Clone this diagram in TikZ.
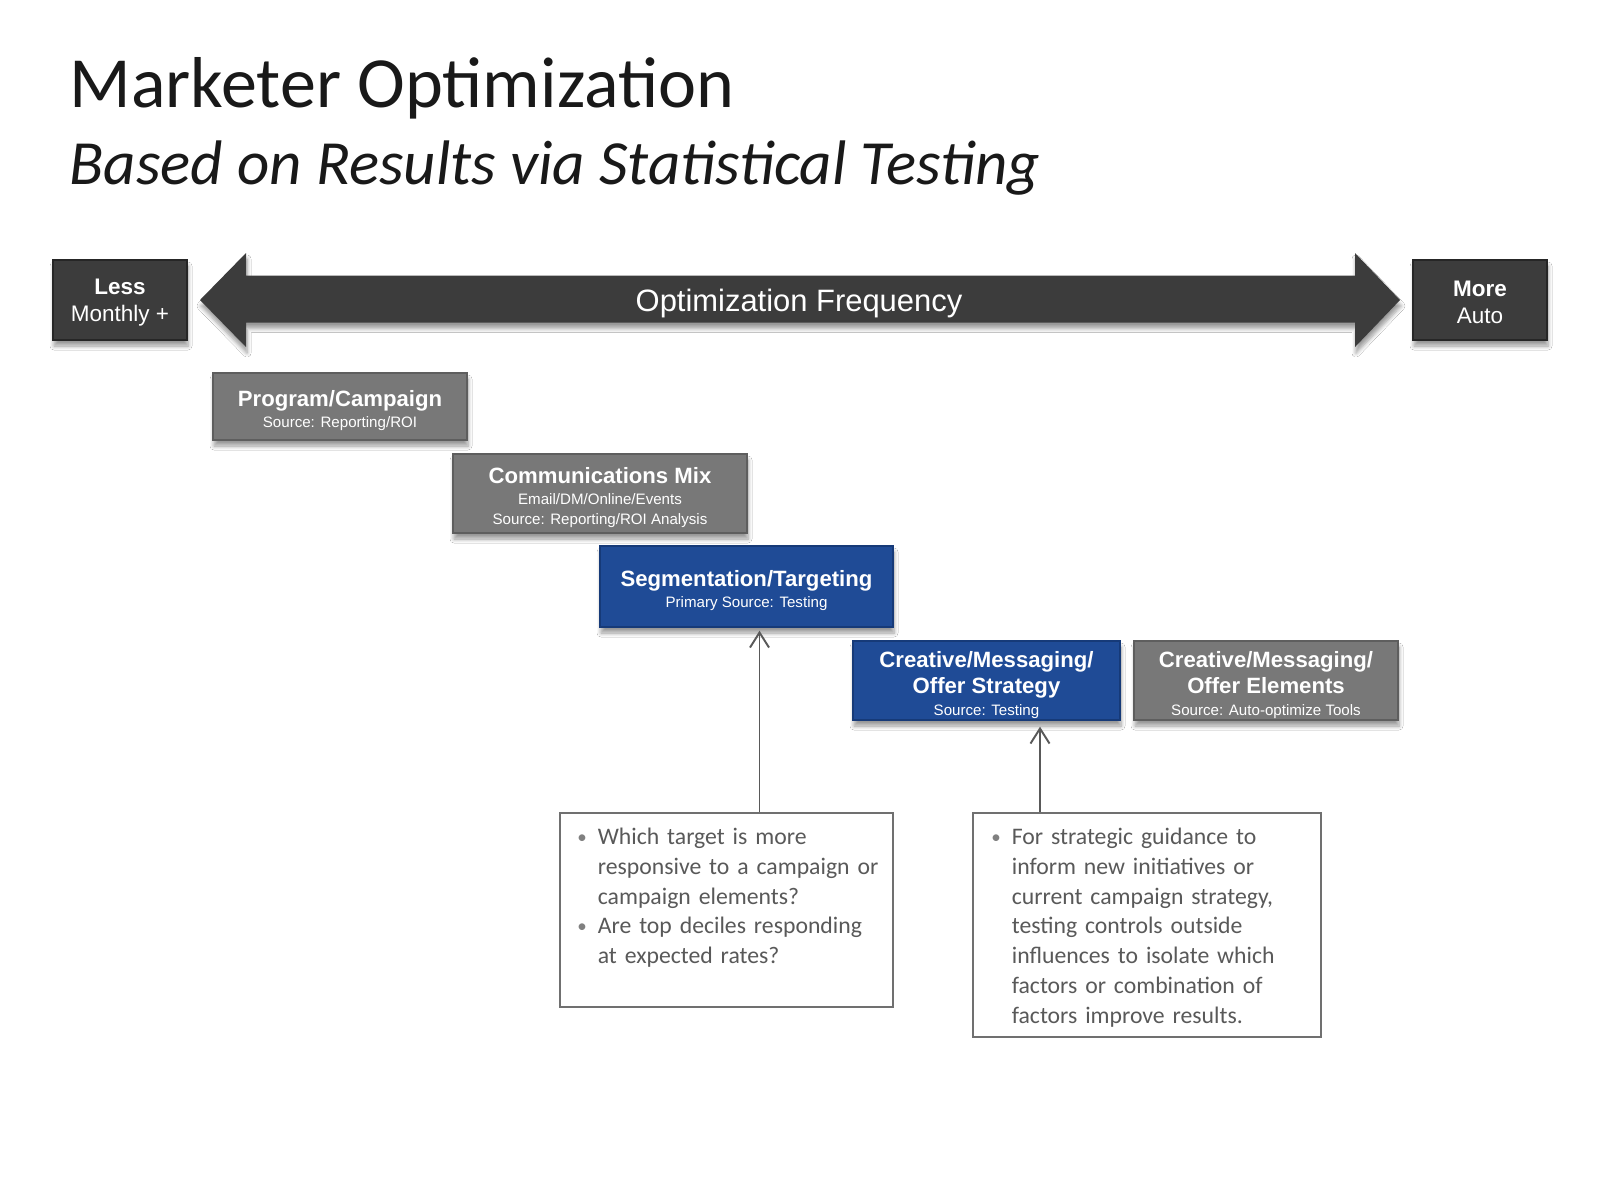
\documentclass[tikz,border=0pt]{standalone}
\usepackage{fontspec}
\setmainfont{Liberation Sans}
\newfontfamily\calibri{Carlito}
\usepackage{tikz}
\usetikzlibrary{shapes.geometric, arrows.meta, calc, shadows.blur}

\definecolor{darkfill}{HTML}{3C3C3C}
\definecolor{darkline}{HTML}{262626}
\definecolor{midfill}{HTML}{787878}
\definecolor{midline}{HTML}{5E5E5E}
\definecolor{bluefill}{HTML}{1F4B96}
\definecolor{blueline}{HTML}{163A78}
\definecolor{notegray}{HTML}{595959}
\definecolor{noteline}{HTML}{707070}

\newcommand{\src}{\mdseries\fontsize{4.3}{5.8}\selectfont}
\newcommand{\capstrut}{\rule{0pt}{6.9pt}}
\newcommand{\nbul}{\leavevmode\llap{\color{gray}\raisebox{0.3pt}{\scalebox{0.8}{\textbullet}}\hspace{0.11cm}}}

\begin{document}
\begin{tikzpicture}[
  soft/.style={blur shadow={shadow xshift=0.01cm, shadow yshift=-0.06cm, shadow blur radius=0.04cm, shadow blur steps=6}},
  box/.style={draw, line width=0.4pt, text=white, align=center, inner sep=0pt, soft},
  endbox/.style={box, fill=darkfill, draw=darkline, minimum width=1.34cm, minimum height=0.80cm,
    font=\fontsize{6.4}{7.7}\selectfont},
  graybox/.style={box, fill=midfill, draw=midline, font=\bfseries\fontsize{6.3}{5.8}\selectfont},
  bluebox/.style={box, fill=bluefill, draw=blueline, font=\bfseries\fontsize{6.3}{5.8}\selectfont},
  note/.style={draw=noteline, line width=0.5pt, fill=white},
  notetext/.style={font=\calibri\fontsize{6.75}{8.5}\selectfont, text=notegray, align=left,
    inner sep=0pt, anchor=north west, text width=3.05cm},
  link/.style={draw=notegray, line width=0.55pt, -{Straight Barb[length=1.5mm,width=1.9mm]}}
]
% Page
\fill[white] (0,0) rectangle (16,-12);

% Title
\node[anchor=base west, inner sep=0pt, text=black!90, font=\calibri\fontsize{20.5}{24}\selectfont]
  (title) at (0.69,-1.07) {Marketer Optimization};
\node[anchor=base west, inner sep=0pt, text=black!90, font=\calibri\itshape\fontsize{17.9}{22}\selectfont]
  (subtitle) at (0.69,-1.84) {Based on Results via Statistical Testing};

% Frequency arrow
\fill[darkfill, soft]
  (2.00,-3.00) -- (2.46,-2.53) -- (2.46,-2.755) -- (13.55,-2.755) -- (13.55,-2.53)
  -- (14.00,-3.00) -- (13.55,-3.47) -- (13.55,-3.225) -- (2.46,-3.225) -- (2.46,-3.47) -- cycle;
\node[text=white, font=\fontsize{8.8}{10}\selectfont] (freq) at (7.99,-3.03) {Optimization Frequency};

% Ends
\node[endbox] (less) at (1.20,-3.00) {\rule{0pt}{5.8pt}\textbf{Less}\\Monthly +};
\node[endbox] (more) at (14.80,-3.00) {\rule{0pt}{5.8pt}\textbf{More}\\Auto};

% Steps
\node[graybox, minimum width=2.54cm, minimum height=0.67cm] (prog) at (3.40,-4.065)
  {\capstrut Program/Campaign\\\src Source: Reporting/ROI};
\node[graybox, minimum width=2.94cm, minimum height=0.79cm] (comms) at (6.00,-4.935)
  {\capstrut Communications Mix\\[0.3pt]\src Email/DM/Online/Events\\\src Source: Reporting/ROI Analysis};
\node[bluebox, minimum width=2.93cm, minimum height=0.81cm] (seg) at (7.465,-5.865)
  {\capstrut Segmentation/Targeting\\\src Primary Source: Testing};
\node[bluebox, minimum width=2.67cm, minimum height=0.79cm] (cstrat) at (9.865,-6.805)
  {\capstrut Creative/Messaging/\\[0.5pt]Offer Strategy\\[0.5pt]\src Source: Testing};
\node[graybox, minimum width=2.64cm, minimum height=0.79cm] (celem) at (12.66,-6.805)
  {\capstrut Creative/Messaging/\\[0.5pt]Offer Elements\\[0.5pt]\src Source: Auto-optimize Tools};

% Notes
\node[note, minimum width=3.33cm, minimum height=1.94cm] (note1) at (7.265,-9.10) {};
\node[notetext] (text1) at ($(note1.north west)+(0.38,-0.15)$)
  {\nbul Which target is more\\responsive to a campaign or\\campaign elements?\\
   \nbul Are top deciles responding\\at expected rates?};
\node[note, minimum width=3.48cm, minimum height=2.24cm] (note2) at (11.47,-9.25) {};
\node[notetext] (text2) at ($(note2.north west)+(0.39,-0.15)$)
  {\nbul For strategic guidance to\\inform new initiatives or\\current campaign strategy,\\
   testing controls outside\\influences to isolate which\\factors or combination of\\factors improve results.};

% Links
\coordinate (segin) at ($(seg.south)+(0.13,-0.03)$);
\coordinate (cstratin) at ($(cstrat.south)+(0.535,-0.06)$);
\draw[link] (segin |- note1.north) -- (segin);
\draw[link] (cstratin |- note2.north) -- (cstratin);
\end{tikzpicture}
\end{document}
